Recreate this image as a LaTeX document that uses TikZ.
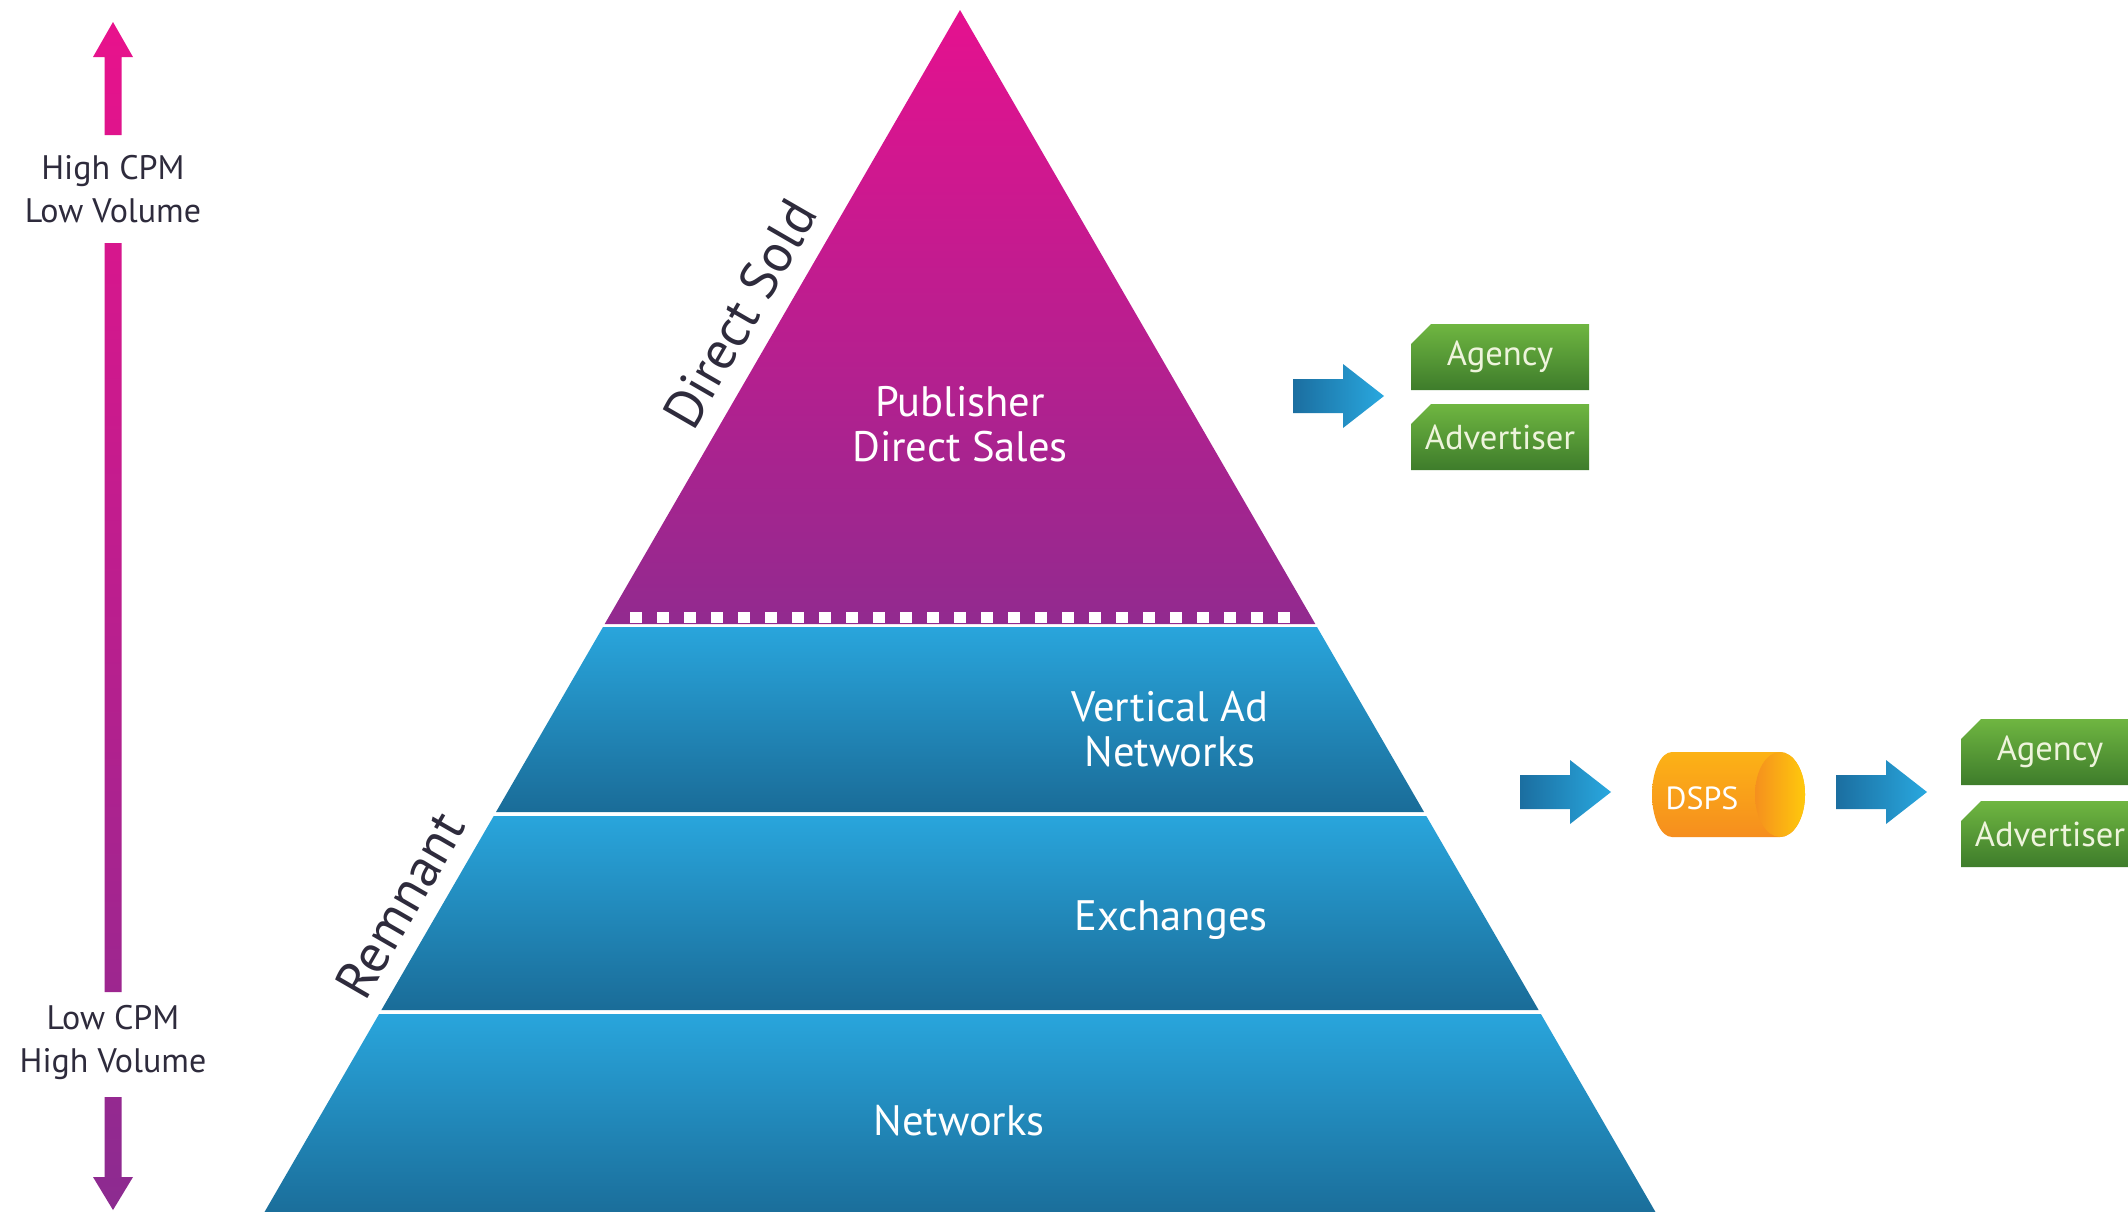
\documentclass[tikz,border=0pt]{standalone}
\usepackage{fontspec}
\setmainfont{PT Sans}
\usetikzlibrary{shapes.misc}
\definecolor{pinktop}{HTML}{E5118F}
\definecolor{purplebot}{HTML}{922A8F}
\definecolor{bluetop}{HTML}{29A5DC}
\definecolor{bluebot}{HTML}{1A6C98}
\definecolor{arrowdark}{HTML}{1B6EA0}
\definecolor{arrowlight}{HTML}{29A8DF}
\definecolor{greentop}{HTML}{6FB641}
\definecolor{greenbot}{HTML}{3E7C2B}
\definecolor{greentext}{HTML}{EEF4DC}
\definecolor{orangetop}{HTML}{FCB216}
\definecolor{orangebot}{HTML}{F68E1E}
\definecolor{facelight}{HTML}{FFC90C}
\definecolor{facedark}{HTML}{F5901E}
\definecolor{labelink}{HTML}{2E2B3C}
\definecolor{scaletop}{HTML}{E8128C}
\definecolor{scalebot}{HTML}{8C2B90}
\begin{document}
\begin{tikzpicture}[x=0.5pt,y=-0.5pt,
  layertext/.style={text=white,font=\fontsize{21.3}{22.5}\selectfont,align=center,inner sep=0pt},
  sidelabel/.style={text=labelink,font=\fontsize{26.8}{28}\selectfont,rotate=60,inner sep=0pt},
  scalelabel/.style={text=labelink,font=\fontsize{17}{21.5}\selectfont,align=center,inner sep=0pt},
  gbox/.style={chamfered rectangle,chamfered rectangle corners=north west,
    chamfered rectangle xsep=5pt,chamfered rectangle ysep=5pt,
    minimum width=89pt,minimum height=33pt,inner sep=0pt,
    top color=greentop,bottom color=greenbot,text=greentext,
    font=\fontsize{17.3}{19}\selectfont},
  blockarrow/.pic={\shade[left color=arrowdark,right color=arrowlight]
    (0,-17) -- (50,-17) -- (50,-32) -- (91,0) -- (50,32) -- (50,17) -- (0,17) -- cycle;}
]
\useasboundingbox (0,0) rectangle (2128,1211);
\clip (0,0) rectangle (2128,1211);
\fill[white] (0,0) rectangle (2128,1211);

% pyramid: top (direct sold)
\shade[top color=pinktop,bottom color=purplebot] (960,10) -- (1315.3,624) -- (604.7,624) -- cycle;
\foreach \k in {-12,...,12}
  \fill[white] ({960+27*\k-6},612) rectangle ({960+27*\k+6},623);
% remnant layers
\shade[top color=bluetop,bottom color=bluebot] (603,627) -- (1317,627) -- (1424,812) -- (496,812) -- cycle;
\shade[top color=bluetop,bottom color=bluebot] (493.7,816) -- (1426.3,816) -- (1538.6,1010) -- (381.4,1010) -- cycle;
\shade[top color=bluetop,bottom color=bluebot] (379.1,1014) -- (1540.9,1014) -- (1660.1,1220) -- (259.9,1220) -- cycle;

\node[layertext] (pub) at (960,424) {Publisher\\Direct Sales};
\node[layertext] (van) at (1170,729) {Vertical Ad\\Networks};
\node[layertext] (exch) at (1171,920) {Exchanges};
\node[layertext] (netw) at (959,1121) {Networks};

\node[sidelabel] (dsold) at (740,314) {Direct Sold};
\node[sidelabel] (remnant) at (400,905) {Remnant};

% vertical scale
\node[scalelabel] (high) at (113,189) {High CPM\\Low Volume};
\node[scalelabel] (low) at (113,1042) {Low CPM\\High Volume};
\shade[top color=scaletop,bottom color=scalebot]
  (113,22) -- (133,57) -- (121.5,57) -- (121.5,135) -- (104.5,135) -- (104.5,57) -- (93,57) -- cycle
  (104.5,243) rectangle (121.5,992)
  (104.5,1097) -- (121.5,1097) -- (121.5,1177) -- (133,1177) -- (113,1210) -- (93,1177) -- (104.5,1177) -- cycle;

% direct flow
\pic at (1293,396) {blockarrow};
\node[gbox] (ag1) at (1500,357) {Agency};
\node[gbox] (adv1) at (1500,437) {Advertiser};

% remnant flow
\pic at (1520,792) {blockarrow};
\shade[top color=orangetop,bottom color=orangebot]
  (1672,752) -- (1780,752)
  arc[start angle=90,end angle=-90,x radius=12.5pt,y radius=21.25pt]
  -- (1672,837)
  arc[start angle=-90,end angle=-270,x radius=10pt,y radius=21.25pt] -- cycle;
\shade[left color=facedark,right color=facelight] (1780,794.5) ellipse[x radius=12.5pt,y radius=21.25pt];
\node[text=white,font=\fontsize{16}{17}\selectfont,inner sep=0pt] (dsps) at (1702,798) {DSPS};
\pic at (1836,792) {blockarrow};
\node[gbox] (ag2) at (2050,752) {Agency};
\node[gbox] (adv2) at (2050,834) {Advertiser};
\end{tikzpicture}
\end{document}
